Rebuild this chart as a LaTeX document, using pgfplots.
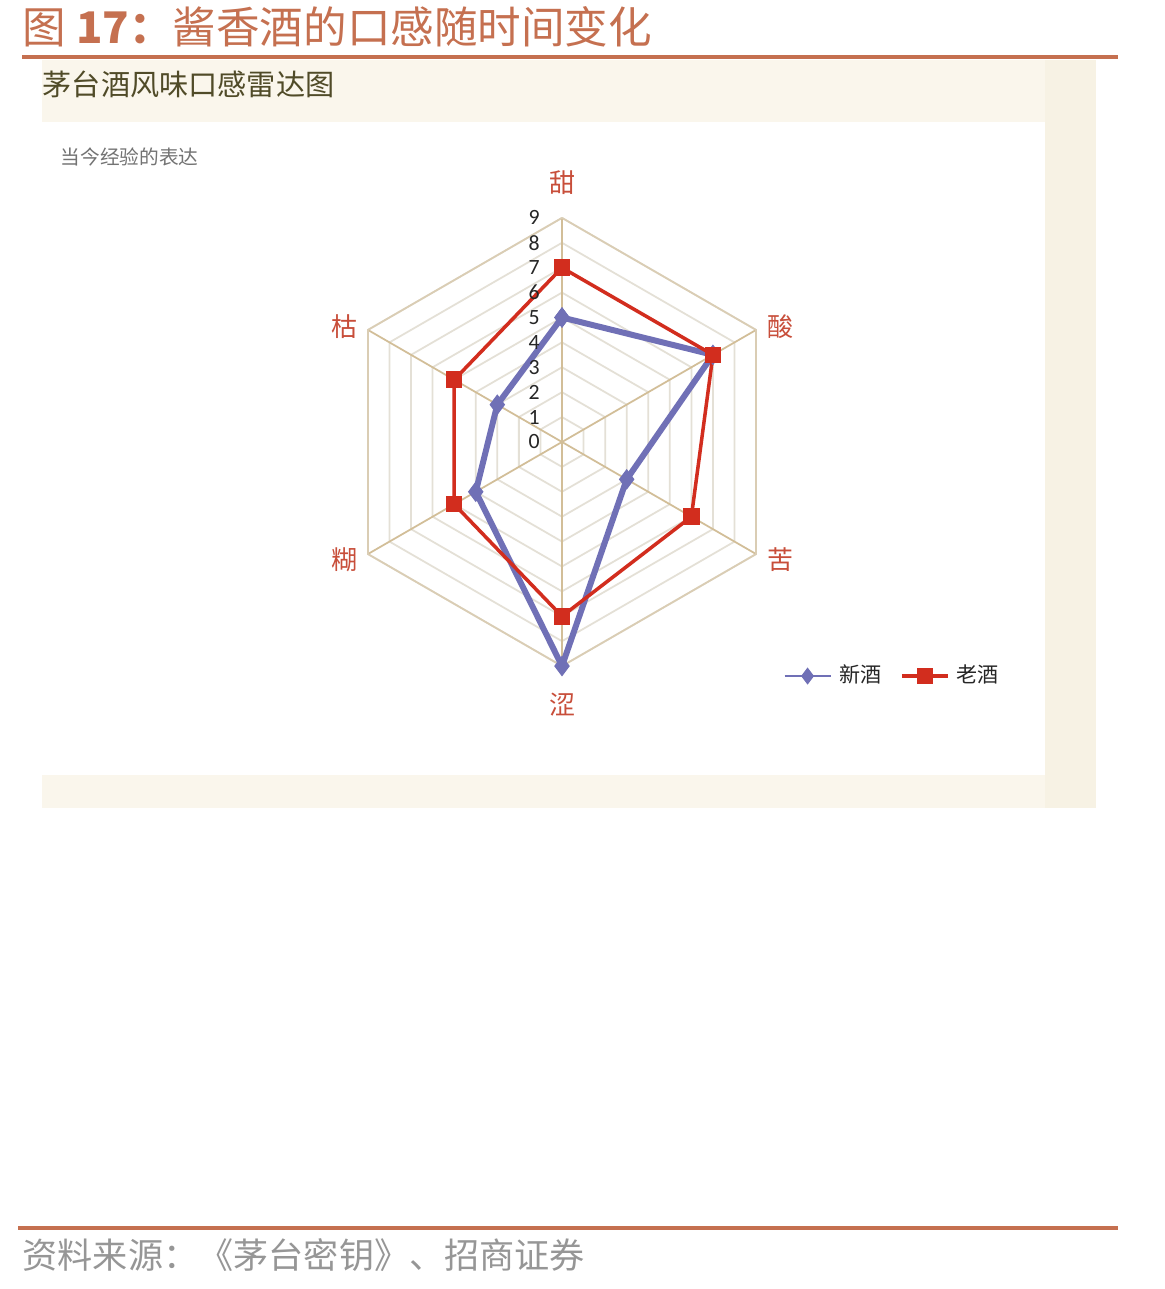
\documentclass[border=0pt]{standalone}
\usepackage{fontspec}
\usepackage{pgfplots}
\pgfplotsset{compat=1.18}
\setmainfont{Noto Sans CJK SC}
\newfontfamily\calfont{Carlito}
\definecolor{titlec}{RGB}{197,112,80}
\definecolor{panelbg}{RGB}{250,246,236}
\definecolor{panelright}{RGB}{247,242,228}
\definecolor{headc}{RGB}{80,75,40}
\definecolor{catc}{RGB}{200,78,58}
\definecolor{newc}{RGB}{112,112,182}
\definecolor{oldc}{RGB}{210,45,30}
\definecolor{ringc}{RGB}{228,224,214}
\definecolor{spokec}{RGB}{210,190,152}
\definecolor{srcc}{RGB}{150,150,150}
\begin{document}
\begin{tikzpicture}[x=0.1mm,y=0.1mm]
\useasboundingbox (0,0) rectangle (1164,1289);
\fill[white] (0,0) rectangle (1164,1289);
% title
\node[anchor=west, text=titlec, inner sep=0pt] at (22,1262)
  {\fontsize{12.4}{14}\selectfont 图 \textbf{17：}酱香酒的口感随时间变化};
\draw[titlec, line width=1.1pt] (22,1232) -- (1118,1232);
% scanned panel
\fill[panelbg] (42,481) rectangle (1096,1229);
\fill[panelright] (1045,481) rectangle (1096,1229);
\fill[white] (42,514) rectangle (1045,1167);
\node[anchor=west, text=headc, inner sep=0pt] at (42,1205)
  {\fontsize{8.3}{10}\selectfont 茅台酒风味口感雷达图};
\node[anchor=west, text=black!55, inner sep=0pt] at (60,1132)
  {\fontsize{5.6}{7}\selectfont 当今经验的表达};
% category labels
\begin{scope}[every node/.style={text=catc, inner sep=0pt, font=\fontsize{7.4}{9}\selectfont}]
\node at (562,1106) {甜};
\node at (780,962) {酸};
\node at (780,729) {苦};
\node at (562,584) {涩};
\node at (345,729) {糊};
\node at (345,962) {枯};
\end{scope}
\coordinate (C) at (562,847);
\begin{axis}[at={(C)}, anchor=center, x=2.49mm, y=2.49mm,
  xmin=-10, xmax=10, ymin=-10, ymax=10, hide axis, clip=false,
  legend columns=2,
  legend style={at={(axis cs:8.43,-9.4)}, anchor=west, draw=none, fill=none,
    font=\fontsize{6}{7}\selectfont, text=black!85,
    /tikz/every even column/.append style={column sep=0.12cm}},
  legend image code/.code={\draw[mark repeat=2,mark phase=2,#1]
    plot coordinates {(0cm,0cm) (0.23cm,0cm) (0.46cm,0cm)};}]
% grid rings
\pgfplotsinvokeforeach{1,...,9}{
  \addplot[ringc, line width=0.5pt, data cs=polar, forget plot] coordinates
    {(90,#1) (30,#1) (-30,#1) (-90,#1) (-150,#1) (150,#1) (90,#1)};
}
% spokes
\pgfplotsinvokeforeach{90,30,-30,-90,-150,150}{
  \addplot[spokec, line width=0.5pt, data cs=polar, forget plot] coordinates
    {(0,0) (#1,9)};
}
% outer ring
\addplot[spokec!55!ringc, line width=0.5pt, data cs=polar, forget plot] coordinates
  {(90,9) (30,9) (-30,9) (-90,9) (-150,9) (150,9) (90,9)};
% new liquor
\addplot[newc, line width=1.7pt, mark=diamond*, mark size=2.7pt,
  mark options={fill=newc, draw=newc, line width=0.3pt}, data cs=polar,
  legend image post style={line width=0.8pt, mark size=2.2pt}] coordinates
  {(90,5) (30,7) (-30,3) (-90,9) (-150,4) (150,3) (90,5)};
\addlegendentry{新酒}
% old liquor
\addplot[oldc, line width=1pt, mark=square*, mark size=2.2pt,
  mark options={fill=oldc, draw=oldc, line width=0.3pt}, data cs=polar] coordinates
  {(90,7) (30,7) (-30,6) (-90,7) (-150,5) (150,5) (90,7)};
\addlegendentry{老酒}
% radial tick labels
\pgfplotsinvokeforeach{0,...,9}{
  \node[text=black!85, inner sep=0pt, font=\calfont\fontsize{6.2}{7}\selectfont]
    at (axis cs:-1.12,#1) {#1};
}
\end{axis}
% footer
\draw[titlec, line width=1.1pt] (18,61) -- (1118,61);
\node[anchor=west, text=srcc, inner sep=0pt] at (22,34)
  {\fontsize{10}{11}\selectfont 资料来源：《茅台密钥》、招商证券};
\end{tikzpicture}
\end{document}
